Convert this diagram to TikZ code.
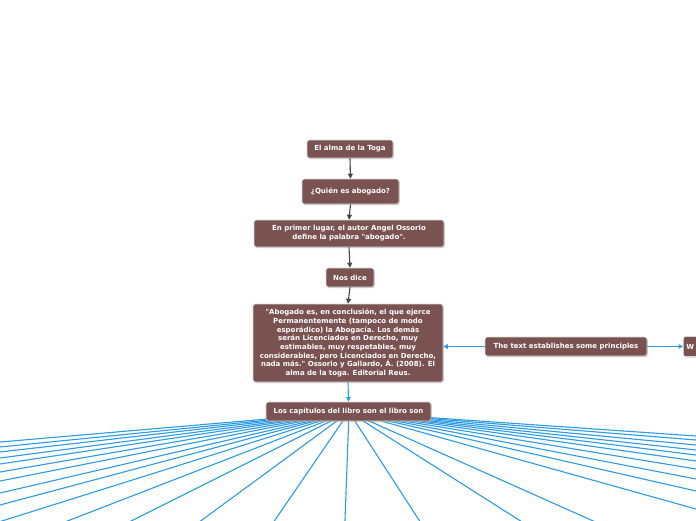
\documentclass[tikz,border=0pt]{standalone}
\usepackage{fontspec}
\setmainfont{DejaVu Sans}[Ligatures=TeXOff]
\usetikzlibrary{shadows,calc,arrows.meta}
\definecolor{nodebrown}{HTML}{7B5252}
\definecolor{darkarrow}{HTML}{454545}
\definecolor{bluelink}{HTML}{2D9BE6}
\tikzset{
 box/.style={rectangle, rounded corners=2.5pt, fill=nodebrown, draw=white!85!black, line width=0.6pt, text=white, font=\fontsize{7}{9}\selectfont\bfseries, align=center, inner sep=0pt, drop shadow={shadow xshift=0.8pt, shadow yshift=-1.2pt, opacity=0.3, fill=black!60}},
 quotefont/.style={font=\fontsize{7}{8.7}\selectfont\bfseries},
 darrow/.style={draw=darkarrow, line width=1.1pt, -{Triangle[length=5pt,width=5pt]}},
 barrow/.style={draw=bluelink, line width=1.1pt, -{Triangle[length=4.5pt,width=4.5pt]}},
 fan/.style={draw=bluelink, line width=1.1pt},
}
\begin{document}
\begin{tikzpicture}[x=1pt,y=-1pt]
\clip (0,0) rectangle (696,520);
\fill[white] (0,0) rectangle (696,520);
\coordinate (fc) at (349,412);
\foreach \x/\y [count=\i] in {0/442,0/447,0/452,0/458,0/464,0/472,0/481,0/493,0/505,
  5/520,70/520,133/520,202/520,275/520,345/520,419/520,519/520,591/520,
  696/509,696/491,696/479,696/469,696/461,696/455,696/450,696/445,696/440,696/436}{
  \coordinate (e\i) at (\x,\y);
  \draw[fan] (fc) -- ($(fc)!1.3!(e\i)$);
}
\node[box, minimum width=86pt, minimum height=18pt] (n1) at (350,149) {El alma de la Toga};
\node[box, minimum width=97pt, minimum height=25pt] (n2) at (350.5,191.5) {¿Quién es abogado?};
\node[box, minimum width=190pt, minimum height=27pt] (n3) at (349,233.5) {En primer lugar, el autor Angel Ossorio\\define la palabra "abogado".};
\node[box, minimum width=48pt, minimum height=19pt] (n4) at (350,277.5) {Nos dice};
\node[box, quotefont, minimum width=190pt, minimum height=78pt] (n5) at (348,343) {"Abogado es, en conclusión, el que ejerce\\Permanentemente (tampoco de modo\\esporádico) la Abogacía. Los demás\\serán Licenciados en Derecho, muy\\estimables, muy respetables, muy\\considerables, pero Licenciados en Derecho,\\nada más." Ossorio y Gallardo, Á. (2008). El\\alma de la toga. Editorial Reus.};
\node[box, minimum width=165pt, minimum height=19pt] (n6) at (348.5,411.5) {Los capítulos del libro son el libro son};
\node[box, minimum width=162pt, minimum height=19pt] (n7) at (566,346.5) {The text establishes some principles};
\node[box, minimum height=20pt, inner xsep=3pt, anchor=west] (n8) at (683,346.5) {\makebox[50pt][l]{W}};
\draw[darrow] (n1.south) -- (n2.north);
\draw[darrow] (n2.south) -- (n3.north);
\draw[darrow] (n3.south) -- (n4.north);
\draw[darrow] (n4.south) -- (n5.north);
\draw[barrow] (n5.south) -- (n6.north);
\draw[barrow] (n7.west) -- (n7.west -| n5.east);
\draw[barrow] (n7.east) -- (n8.west);
\end{tikzpicture}
\end{document}
